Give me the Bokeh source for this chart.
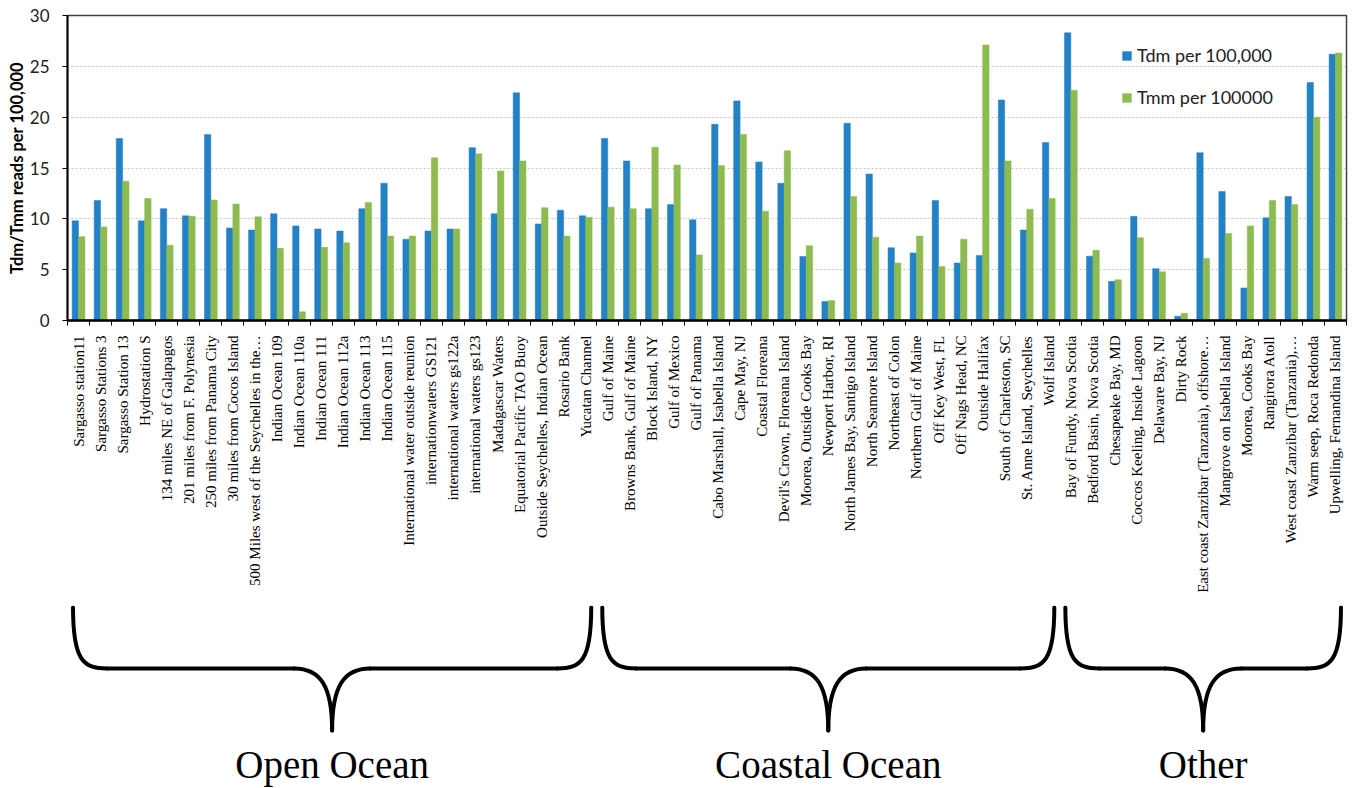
from math import pi
from bokeh.plotting import figure
from bokeh.models import Range1d, FixedTicker
from bokeh.layouts import column
from bokeh.transform import dodge
from bokeh.core.properties import value
from bokeh.embed import file_html
from bokeh.resources import INLINE

categories = [
    "Sargasso station11", "Sargasso Stations 3", "Sargasso Station 13", "Hydrostation S",
    "134 miles NE of Galapagos", "201 miles from F. Polynesia", "250 miles from Panama City",
    "30 miles from Cocos Island", "500 Miles west of the Seychelles in the\u2026",
    "Indian Ocean 109", "Indian Ocean 110a", "Indian Ocean 111", "Indian Ocean 112a",
    "Indian Ocean 113", "Indian Ocean 115", "International water outside reunion",
    "internationwaters GS121", "international waters gs122a", "international waters gs123",
    "Madagascar Waters", "Equatorial Pacific TAO Buoy", "Outside Seychelles, Indian Ocean",
    "Rosario Bank", "Yucatan Channel",
    "Gulf of Maine", "Browns Bank, Gulf of Maine", "Block Island, NY", "Gulf of Mexico",
    "Gulf of Panama", "Cabo Marshall, Isabella Island", "Cape May, NJ", "Coastal Floreana",
    "Devil's Crown, Floreana Island", "Moorea, Outside Cooks Bay", "Newport Harbor, RI",
    "North James Bay, Santigo Island", "North Seamore Island", "Northeast of Colon",
    "Northern Gulf of Maine", "Off Key West, FL", "Off Nags Head, NC", "Outside Halifax",
    "South of Charleston, SC", "St. Anne Island, Seychelles", "Wolf Island",
    "Bay of Fundy, Nova Scotia", "Bedford Basin, Nova Scotia", "Chesapeake Bay, MD",
    "Coccos Keeling, Inside Lagoon", "Delaware Bay, NJ", "Dirty Rock",
    "East coast Zanzibar (Tanzania), offshore\u2026", "Mangrove on Isabella Island",
    "Moorea, Cooks Bay", "Rangirora Atoll", "West coast Zanzibar (Tanzania),\u2026",
    "Warm seep, Roca Redonda", "Upwelling, Fernandina Island",
]

tdm = [9.8, 11.8, 17.9, 9.8, 11.0, 10.3, 18.3, 9.1, 8.9, 10.5, 9.3, 9.0, 8.8, 11.0, 13.5,
       8.0, 8.8, 9.0, 17.0, 10.5, 22.4, 9.5, 10.85, 10.3,
       17.9, 15.7, 11.0, 11.4, 9.9, 19.3, 21.6, 15.6, 13.5, 6.3, 1.87, 19.4, 14.4, 7.15,
       6.65, 11.8, 5.65, 6.4, 21.7, 8.9, 17.5,
       28.3, 6.33, 3.85, 10.25, 5.1, 0.43, 16.5, 12.7, 3.2, 10.1, 12.2, 23.4, 26.2]

tmm = [8.25, 9.2, 13.7, 12.0, 7.4, 10.25, 11.85, 11.45, 10.2, 7.1, 0.85, 7.2, 7.65, 11.6,
       8.3, 8.3, 16.0, 9.0, 16.4, 14.7, 15.7, 11.1, 8.3, 10.15,
       11.15, 11.0, 17.05, 15.3, 6.45, 15.25, 18.3, 10.75, 16.7, 7.35, 1.97, 12.2, 8.2, 5.65,
       8.3, 5.3, 8.0, 27.1, 15.7, 10.95, 12.0,
       22.65, 6.9, 4.0, 8.15, 4.8, 0.72, 6.1, 8.55, 9.3, 11.8, 11.4, 20.0, 26.3]

series_names = ["Tdm per 100,000", "Tmm per 100000"]
y_ticks = [0, 5, 10, 15, 20, 25, 30]
group_names = ["Open Ocean", "Coastal Ocean", "Other"]
group_sizes = [24, 21, 13]

BLUE = "#2381C5"
GREEN = "#8DBB50"
FRAME_W = 1279
n = len(categories)
xs = list(range(n))

p = figure(frame_width=FRAME_W, frame_height=305,
           x_range=Range1d(-0.5, n - 0.5), y_range=Range1d(0, 30),
           output_backend="svg", toolbar_location=None,
           min_border_left=67, min_border_right=12, min_border_top=15, min_border_bottom=285)
p.background_fill_color = "white"
p.border_fill_color = "white"
p.outline_line_color = "#404040"
p.outline_line_width = 1.5

src = dict(x=xs, tdm=tdm, tmm=tmm)
BW = 0.29
p.vbar(x=dodge("x", -BW / 2, range=p.x_range), top="tdm", width=BW, source=src,
       fill_color=BLUE, line_color=BLUE, line_width=0.5, legend_label=series_names[0])
p.vbar(x=dodge("x", BW / 2, range=p.x_range), top="tmm", width=BW, source=src,
       fill_color=GREEN, line_color=GREEN, line_width=0.5, legend_label=series_names[1])

# y axis
p.yaxis.ticker = FixedTicker(ticks=y_ticks)
p.yaxis.axis_label = "Tdm/Tmm reads per 100,000"
p.yaxis.axis_label_text_font = "Lato"
p.yaxis.axis_label_text_font_style = "bold"
p.yaxis.axis_label_text_font_size = "16.5px"
p.yaxis.axis_label_text_color = "black"
p.yaxis.axis_label_standoff = 0
p.yaxis.major_label_text_font = "Lato"
p.yaxis.major_label_text_font_size = "17px"
p.yaxis.major_label_text_color = "#222222"
p.yaxis.major_label_standoff = 13
p.yaxis.major_tick_out = 5
p.yaxis.major_tick_in = 0
p.yaxis.major_tick_line_color = "black"
p.yaxis.axis_line_color = "black"
p.yaxis.axis_line_width = 2

p.ygrid.ticker = FixedTicker(ticks=y_ticks)
p.ygrid.grid_line_color = "#c4c4c4"
p.ygrid.grid_line_dash = "2 2"
p.ygrid.grid_line_width = 1
p.xgrid.visible = False

# x axis: labels at category centres, ticks at category boundaries
p.xaxis.ticker = FixedTicker(ticks=xs, minor_ticks=[i - 0.5 for i in range(n + 1)])
p.xaxis.major_label_overrides = {i: c for i, c in enumerate(categories)}
p.xaxis.major_label_orientation = pi / 2
p.xaxis.major_label_text_font = "Liberation Serif"
p.xaxis.major_label_text_font_size = "15px"
p.xaxis.major_label_text_color = "black"
p.xaxis.major_label_standoff = 10
p.xaxis.major_tick_line_color = None
p.xaxis.major_tick_out = 0
p.xaxis.major_tick_in = 0
p.xaxis.minor_tick_out = 5
p.xaxis.minor_tick_in = 0
p.xaxis.minor_tick_line_color = "black"
p.xaxis.axis_line_color = "black"
p.xaxis.axis_line_width = 2.5

lg = p.legend[0]
lg.location = (1054, 212)
lg.label_text_font = "Lato"
lg.label_text_font_size = "18px"
lg.label_text_color = "#222222"
lg.glyph_width = 11
lg.glyph_height = 11
lg.label_height = 20
lg.spacing = 20
lg.padding = 0
lg.margin = 0
lg.label_standoff = 5
lg.border_line_color = None
lg.background_fill_alpha = 0

# braces and group labels (vertical positions in page pixels)
P2_TOP, P2_BOT = 605, 788
TOP_Y, MID_Y, TIP_Y, TXT_Y = 607, 668, 730, 764
p2 = figure(frame_width=FRAME_W, frame_height=P2_BOT - P2_TOP,
            x_range=Range1d(-0.5, n - 0.5), y_range=Range1d(P2_BOT, P2_TOP),
            output_backend="svg", toolbar_location=None,
            x_axis_type=None, y_axis_type=None,
            min_border_left=67, min_border_right=12, min_border_top=0, min_border_bottom=0)
p2.grid.visible = False
p2.outline_line_color = None
p2.background_fill_color = "white"
p2.border_fill_color = "white"

u = n / FRAME_W  # data units per pixel
r1, r2, inset = 34 * u, 38 * u, 0.25
bz = dict(x0=[], y0=[], x1=[], y1=[], cx0=[], cy0=[], cx1=[], cy1=[])
sg = dict(x0=[], y0=[], x1=[], y1=[])
centers = []
start = 0
for size in group_sizes:
    a = start - 0.5 + inset
    b = start + size - 0.5 - inset
    c = (a + b) / 2
    centers.append(c)
    for end, s in ((a, 1), (b, -1)):
        bz["x0"].append(end); bz["y0"].append(TOP_Y)
        bz["x1"].append(end + s * r1); bz["y1"].append(MID_Y)
        bz["cx0"].append(end); bz["cy0"].append(MID_Y - 8)
        bz["cx1"].append(end + s * r1 * 0.3); bz["cy1"].append(MID_Y)
        bz["x0"].append(c - s * r2); bz["y0"].append(MID_Y)
        bz["x1"].append(c); bz["y1"].append(TIP_Y)
        bz["cx0"].append(c - s * r2 * 0.3); bz["cy0"].append(MID_Y)
        bz["cx1"].append(c); bz["cy1"].append(MID_Y + 18)
        sg["x0"].append(end + s * r1); sg["y0"].append(MID_Y)
        sg["x1"].append(c - s * r2); sg["y1"].append(MID_Y)
    start += size

p2.bezier(source=bz, line_color="black", line_width=4, line_cap="round")
p2.segment(source=sg, line_color="black", line_width=4, line_cap="round")
p2.text(x=centers, y=[TXT_Y] * len(centers), text=group_names,
        text_font=value("Liberation Serif"), text_font_size="39px",
        text_align="center", text_baseline="middle", text_color="black")

layout = column(p, p2, spacing=0)
open("out.html", "w").write(file_html(layout, INLINE))
